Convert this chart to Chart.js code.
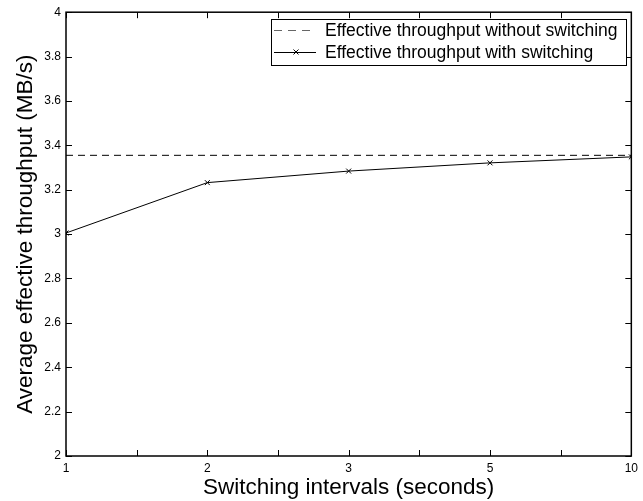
<!DOCTYPE html>
<html>
<head>
<meta charset="utf-8">
<script src="https://cdn.jsdelivr.net/npm/chart.js@4/dist/chart.umd.min.js"></script>
<style>
  body { margin: 0; background: #fff; }
  #wrap { width: 643px; height: 501px; }
</style>
</head>
<body>
<div id="wrap"><canvas id="chart"></canvas></div>
<script>
// switching intervals (seconds), equally spaced on the axis
var intervals = ["1", "2", "3", "5", "10"];
var withSwitching = [3.005, 3.232, 3.284, 3.321, 3.348];
var withoutSwitching = [3.355, 3.355, 3.355, 3.355, 3.355];
var yTicks = [2, 2.2, 2.4, 2.6, 2.8, 3, 3.2, 3.4, 3.6, 3.8, 4];

var fontName = "'Liberation Sans', Arial, Helvetica, sans-serif";

function toPoints(vals) {
    return vals.map(function (v, i) { return { x: i, y: v }; });
}

// box around the plot with small inward ticks on all four sides
var boxPlugin = {
    id: "box",
    afterDraw: function (chart) {
        var ctx = chart.ctx;
        var a = chart.chartArea;
        var xs = chart.scales.x, ys = chart.scales.y;
        ctx.save();
        ctx.strokeStyle = "#000";
        ctx.lineWidth = 1;
        var len = 6;
        ctx.beginPath();
        for (var t = 0; t <= intervals.length - 1; t += 0.5) {
            var px = Math.round(xs.getPixelForValue(t)) + 0.5;
            ctx.moveTo(px, a.bottom); ctx.lineTo(px, a.bottom - len);
            ctx.moveTo(px, a.top); ctx.lineTo(px, a.top + len);
        }
        yTicks.forEach(function (v) {
            var py = Math.round(ys.getPixelForValue(v)) + 0.5;
            ctx.moveTo(a.left, py); ctx.lineTo(a.left + len, py);
            ctx.moveTo(a.right, py); ctx.lineTo(a.right - len, py);
        });
        ctx.stroke();
        ctx.lineWidth = 1.5;
        ctx.strokeRect(a.left, a.top, a.right - a.left, a.bottom - a.top);

        // legend box, upper right
        var items = chart.data.datasets;
        ctx.font = "17.5px " + fontName;
        var w = 355, h = 46;
        var bx = Math.round(a.right - w - 5), by = Math.round(a.top + 7);
        ctx.fillStyle = "#fff";
        ctx.fillRect(bx, by, w, h);
        ctx.lineWidth = 1;
        ctx.strokeRect(bx + 0.5, by + 0.5, w, h);
        items.forEach(function (ds, i) {
            var ly = by + 11 + i * 22;
            ctx.beginPath();
            ctx.strokeStyle = ds.borderDash ? "#666" : "#000";
            ctx.setLineDash(ds.borderDash ? [8, 6] : []);
            ctx.moveTo(bx + 3, ly + 0.5); ctx.lineTo(bx + 45, ly + 0.5);
            ctx.stroke();
            ctx.setLineDash([]);
            ctx.strokeStyle = "#000";
            if (ds.pointRadius > 0) {
                var cx = bx + 25, r = 2.5;
                ctx.beginPath();
                ctx.moveTo(cx - r, ly - r); ctx.lineTo(cx + r, ly + r);
                ctx.moveTo(cx + r, ly - r); ctx.lineTo(cx - r, ly + r);
                ctx.stroke();
            }
            ctx.fillStyle = "#000";
            ctx.textBaseline = "middle";
            ctx.fillText(ds.label, bx + 54, ly + 1);
        });
        ctx.restore();
    }
};

new Chart(document.getElementById("chart"), {
    type: "line",
    data: {
        datasets: [{
            label: "Effective throughput without switching",
            data: toPoints(withoutSwitching),
            borderColor: "#000",
            borderWidth: 1,
            borderDash: [7, 5],
            pointRadius: 0
        }, {
            label: "Effective throughput with switching",
            data: toPoints(withSwitching),
            borderColor: "#000",
            borderWidth: 1,
            pointStyle: "crossRot",
            pointRadius: 3.5,
            pointBorderWidth: 1,
            pointBorderColor: "#000"
        }]
    },
    options: {
        responsive: true,
        maintainAspectRatio: false,
        animation: false,
        layout: { padding: { top: 9, right: 5, left: 0, bottom: 0 } },
        plugins: { legend: { display: false }, tooltip: { enabled: false } },
        scales: {
            x: {
                type: "linear",
                min: 0,
                max: intervals.length - 1,
                grid: { display: false, drawTicks: false },
                border: { display: false },
                afterFit: function (s) { s.height = 45; },
                ticks: {
                    stepSize: 1,
                    padding: 5,
                    maxRotation: 0,
                    color: "#000",
                    font: { family: fontName, size: 12 },
                    callback: function (v) { return intervals[v]; }
                },
                title: {
                    display: true,
                    text: "Switching intervals (seconds)",
                    color: "#000",
                    padding: { top: -2, bottom: 0 },
                    font: { family: fontName, size: 22.5 }
                }
            },
            y: {
                min: 2,
                max: 4,
                grid: { display: false, drawTicks: false },
                border: { display: false },
                afterFit: function (s) { s.width = 66; },
                afterBuildTicks: function (s) {
                    s.ticks = yTicks.map(function (v) { return { value: v }; });
                },
                ticks: {
                    padding: 5,
                    color: "#000",
                    font: { family: fontName, size: 12 },
                    callback: function (v) { return String(Math.round(v * 10) / 10); }
                },
                title: {
                    display: true,
                    text: "Average effective throughput (MB/s)",
                    color: "#000",
                    padding: { top: 12, bottom: 0 },
                    font: { family: fontName, size: 22.5 }
                }
            }
        }
    },
    plugins: [boxPlugin]
});
</script>
</body>
</html>
